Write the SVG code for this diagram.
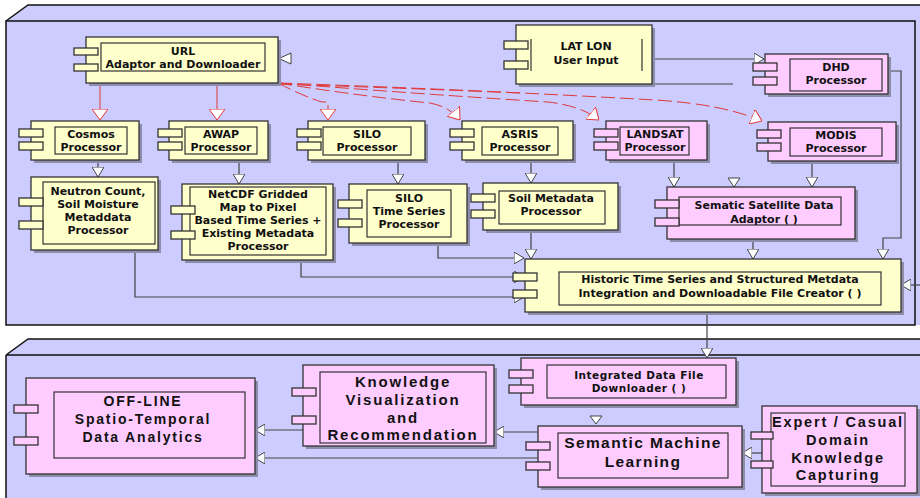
<svg xmlns="http://www.w3.org/2000/svg" width="920" height="498" viewBox="0 0 920 498">
  <style>
    .pkg { fill: #ccccff; stroke: none; }
    .frame { fill: none; stroke: #111; stroke-width: 1.5; }
    .sh { fill: #8e8eaa; }
    .y { fill: #ffffcc; stroke: #333; stroke-width: 1.3; }
    .p { fill: #ffccff; stroke: #333; stroke-width: 1.3; }
    .in { fill: none; stroke: #333; stroke-width: 1.2; }
    .t { font-family: "DejaVu Sans", sans-serif; font-weight: bold; font-size: 11px; text-anchor: middle; fill: #111; }
    .tb { font-family: "Liberation Sans", Arial, sans-serif; font-weight: bold; text-anchor: middle; fill: #111; }
    .c { fill: none; stroke: #444; stroke-width: 1.2; }
    .r { fill: none; stroke: #e03838; stroke-width: 1; }
    .rd { stroke-dasharray: 14 5; }
    .tri { fill: #fff; stroke: #444; stroke-width: 1; }
  </style>
  <defs>
    <marker id="ah" viewBox="0 0 10 12" refX="10" refY="6" markerWidth="10" markerHeight="12" orient="auto" markerUnits="userSpaceOnUse">
      <path d="M0,0 L10,6 L0,12 z" fill="#fff" stroke="#444" stroke-width="1"/>
    </marker>
    <marker id="rh" viewBox="0 0 11 16" refX="11" refY="8" markerWidth="11" markerHeight="16" orient="auto" markerUnits="userSpaceOnUse">
      <path d="M0,0 L11,8 L0,16 z" fill="#fff" stroke="#e03838" stroke-width="1"/>
    </marker>
  </defs>

  <rect width="920" height="498" fill="#fff"/>

  <!-- upper package -->
  <g id="pkg-upper">
    <path class="pkg" d="M6,21 L28,5 L920,5 L920,325 L6,325 Z"/>
    <path class="frame" d="M6,21 L28,5 L920,5"/>
    <rect class="frame" x="6" y="21" width="909" height="304"/>
  </g>

  <!-- lower package -->
  <g id="pkg-lower">
    <path class="pkg" d="M6,355 L28,339 L920,339 L920,498 L6,498 Z"/>
    <path class="frame" d="M6,355 L28,339 L920,339 M6,355 L920,355 M6,355 L6,498"/>
  </g>

  <!-- connectors -->
  <g id="connectors">
    <!-- URL adaptor fan-out -->
    <path class="r" d="M100,83 L100,120" marker-end="url(#rh)"/>
    <path class="r" d="M217,83 L217,120" marker-end="url(#rh)"/>
    <path class="r rd" d="M278,83 Q305,97 322,102 L328,102 L328,120" marker-end="url(#rh)"/>
    <path class="r rd" d="M278,83 Q360,96 430,103 Q450,107 460,120" marker-end="url(#rh)"/>
    <path class="r rd" d="M278,83 Q420,94 548,102 Q582,106 599,120" marker-end="url(#rh)"/>
    <path class="r rd" d="M278,83 Q480,90 655,100 Q722,104 762,121" marker-end="url(#rh)"/>
    <path class="r rd" d="M278,84 Q400,88 520,93"/>

    <!-- URL input port -->
    <polygon class="tri" points="291,53 291,64 279,58.5"/>

    <!-- LAT LON to DH -->
    <path class="c" d="M650,59 L764,59" marker-end="url(#ah)"/>
    <path class="c" d="M652,84 L733,84"/>

    <!-- processors to metadata processors -->
    <path class="c" d="M98,160 L98,177" marker-end="url(#ah)"/>
    <path class="c" d="M239,160 L239,184" marker-end="url(#ah)"/>
    <path class="c" d="M398,160 L398,184" marker-end="url(#ah)"/>
    <path class="c" d="M531,160 L531,183" marker-end="url(#ah)"/>
    <path class="c" d="M674,160 L674,187" marker-end="url(#ah)"/>
    <path class="c" d="M812,161 L812,187" marker-end="url(#ah)"/>
    <polygon class="tri" points="728,178 740,178 734,187"/>

    <!-- into integration creator -->
    <path class="c" d="M531,230 L531,259" marker-end="url(#ah)"/>
    <path class="c" d="M753,239 L753,259" marker-end="url(#ah)"/>
    <path class="c" d="M886,71 L901,71 L901,238 L883,238 L883,259" marker-end="url(#ah)"/>
    <path class="c" d="M438,243 L438,258 L524,258" marker-end="url(#ah)"/>
    <path class="c" d="M301,260 L301,277 L524,277" marker-end="url(#ah)"/>
    <path class="c" d="M135,250 L135,297 L524,297" marker-end="url(#ah)"/>
    <path class="c" d="M920,285 L901,285" marker-end="url(#ah)"/>

    <!-- to downloader -->
    <path class="c" d="M707,312 L707,358" marker-end="url(#ah)"/>

    <!-- lower package flows -->
    <polygon class="tri" points="590,416 602,416 596,424"/>
    <path class="c" d="M762,453 L742,453" marker-end="url(#ah)"/>
    <path class="c" d="M538,432 L494,432" marker-end="url(#ah)"/>
    <path class="c" d="M538,458 L255,458" marker-end="url(#ah)"/>
    <path class="c" d="M303,430 L255,430" marker-end="url(#ah)"/>
  </g>

  <!-- nodes -->
  <g id="url-adaptor">
    <rect class="sh" x="89" y="40" width="192" height="46"/>
    <rect class="y" x="86" y="37" width="192" height="46"/>
    <rect class="in" x="101" y="43" width="164" height="28"/>
    <rect class="y" x="74" y="48" width="24" height="7"/>
    <rect class="y" x="74" y="64" width="24" height="7"/>
    <text class="t" x="183" y="55">URL</text>
    <text class="t" x="183" y="68">Adaptor and Downloader</text>
  </g>

  <g id="latlon-input">
    <rect class="sh" x="519" y="28" width="136" height="59"/>
    <rect class="y" x="516" y="25" width="136" height="59"/>
    <path class="in" d="M531,39 L531,71 M642,39 L642,71"/>
    <rect class="y" x="504" y="41" width="24" height="8"/>
    <rect class="y" x="504" y="61" width="24" height="8"/>
    <text class="t" x="586" y="50">LAT LON</text>
    <text class="t" x="586" y="64">User Input</text>
  </g>

  <g id="dhd-processor">
    <rect class="sh" x="768" y="57" width="123" height="40"/>
    <rect class="p" x="765" y="54" width="123" height="40"/>
    <rect class="in" x="790" y="59" width="92" height="32"/>
    <rect class="p" x="753" y="63" width="24" height="8"/>
    <rect class="p" x="753" y="77" width="24" height="8"/>
    <text class="t" x="836" y="71">DHD</text>
    <text class="t" x="836" y="84">Processor</text>
  </g>

  <g id="cosmos-processor">
    <rect class="sh" x="34" y="124" width="108" height="39"/>
    <rect class="y" x="31" y="121" width="108" height="39"/>
    <rect class="in" x="55" y="127" width="72" height="27"/>
    <rect class="y" x="19" y="129" width="24" height="8"/>
    <rect class="y" x="19" y="142" width="24" height="8"/>
    <text class="t" x="91" y="138">Cosmos</text>
    <text class="t" x="91" y="151">Processor</text>
  </g>

  <g id="awap-processor">
    <rect class="sh" x="172" y="124" width="99" height="39"/>
    <rect class="y" x="169" y="121" width="99" height="39"/>
    <rect class="in" x="185" y="127" width="72" height="27"/>
    <rect class="y" x="158" y="129" width="24" height="8"/>
    <rect class="y" x="158" y="142" width="24" height="8"/>
    <text class="t" x="221" y="138">AWAP</text>
    <text class="t" x="221" y="151">Processor</text>
  </g>

  <g id="silo-processor">
    <rect class="sh" x="311" y="124" width="117" height="39"/>
    <rect class="y" x="308" y="121" width="117" height="39"/>
    <rect class="in" x="323" y="127" width="88" height="28"/>
    <rect class="y" x="297" y="129" width="24" height="8"/>
    <rect class="y" x="297" y="142" width="24" height="8"/>
    <text class="t" x="367" y="138">SILO</text>
    <text class="t" x="367" y="151">Processor</text>
  </g>

  <g id="asris-processor">
    <rect class="sh" x="465" y="124" width="111" height="39"/>
    <rect class="y" x="462" y="121" width="111" height="39"/>
    <rect class="in" x="482" y="127" width="76" height="28"/>
    <rect class="y" x="450" y="129" width="24" height="8"/>
    <rect class="y" x="450" y="142" width="24" height="8"/>
    <text class="t" x="520" y="138">ASRIS</text>
    <text class="t" x="520" y="151">Processor</text>
  </g>

  <g id="landsat-processor">
    <rect class="sh" x="609" y="124" width="101" height="39"/>
    <rect class="p" x="606" y="121" width="101" height="39"/>
    <rect class="in" x="620" y="127" width="69" height="28"/>
    <rect class="p" x="594" y="129" width="24" height="8"/>
    <rect class="p" x="594" y="142" width="24" height="8"/>
    <text class="t" x="655" y="138">LANDSAT</text>
    <text class="t" x="655" y="151">Processor</text>
  </g>

  <g id="modis-processor">
    <rect class="sh" x="771" y="125" width="128" height="39"/>
    <rect class="p" x="768" y="122" width="128" height="39"/>
    <rect class="in" x="790" y="128" width="92" height="28"/>
    <rect class="p" x="757" y="130" width="24" height="8"/>
    <rect class="p" x="757" y="143" width="24" height="8"/>
    <text class="t" x="836" y="139">MODIS</text>
    <text class="t" x="836" y="152">Processor</text>
  </g>

  <g id="neutron-processor">
    <rect class="sh" x="34" y="180" width="127" height="73"/>
    <rect class="y" x="31" y="177" width="127" height="73"/>
    <rect class="in" x="43" y="182" width="112" height="62"/>
    <rect class="y" x="19" y="198" width="24" height="8"/>
    <rect class="y" x="19" y="221" width="24" height="8"/>
    <text class="t" x="98" y="195">Neutron Count,</text>
    <text class="t" x="98" y="208">Soil Moisture</text>
    <text class="t" x="98" y="221">Metaddata</text>
    <text class="t" x="98" y="234">Processor</text>
  </g>

  <g id="netcdf-processor">
    <rect class="sh" x="185" y="187" width="151" height="76"/>
    <rect class="y" x="182" y="184" width="151" height="76"/>
    <rect class="in" x="190" y="187" width="136" height="68"/>
    <rect class="y" x="171" y="206" width="24" height="8"/>
    <rect class="y" x="171" y="231" width="24" height="8"/>
    <text class="t" x="258" y="198">NetCDF Gridded</text>
    <text class="t" x="258" y="211">Map to Pixel</text>
    <text class="t" x="258" y="224">Based Time Series +</text>
    <text class="t" x="258" y="237">Existing Metadata</text>
    <text class="t" x="258" y="250">Processor</text>
  </g>

  <g id="silo-timeseries">
    <rect class="sh" x="352" y="187" width="118" height="59"/>
    <rect class="y" x="349" y="184" width="118" height="59"/>
    <rect class="in" x="367" y="190" width="84" height="47"/>
    <rect class="y" x="338" y="200" width="24" height="8"/>
    <rect class="y" x="338" y="219" width="24" height="8"/>
    <text class="t" x="409" y="202">SILO</text>
    <text class="t" x="409" y="215">Time Series</text>
    <text class="t" x="409" y="228">Processor</text>
  </g>

  <g id="soil-metadata">
    <rect class="sh" x="486" y="186" width="135" height="47"/>
    <rect class="y" x="483" y="183" width="135" height="47"/>
    <rect class="in" x="499" y="191" width="106" height="33"/>
    <rect class="y" x="471" y="194" width="24" height="8"/>
    <rect class="y" x="471" y="210" width="24" height="8"/>
    <text class="t" x="551" y="202">Soil Metadata</text>
    <text class="t" x="551" y="215">Processor</text>
  </g>

  <g id="satellite-adaptor">
    <rect class="sh" x="670" y="190" width="188" height="52"/>
    <rect class="p" x="667" y="187" width="188" height="52"/>
    <rect class="in" x="679" y="197" width="162" height="28"/>
    <rect class="p" x="655" y="200" width="24" height="8"/>
    <rect class="p" x="655" y="218" width="24" height="8"/>
    <text class="t" x="764" y="209">Sematic Satellite Data</text>
    <text class="t" x="764" y="223">Adaptor ( )</text>
  </g>

  <g id="integration-creator">
    <rect class="sh" x="528" y="262" width="376" height="53"/>
    <rect class="y" x="525" y="259" width="376" height="53"/>
    <rect class="in" x="559" y="272" width="322" height="33"/>
    <rect class="y" x="513" y="273" width="24" height="8"/>
    <rect class="y" x="513" y="290" width="24" height="8"/>
    <text class="t" x="720" y="283">Historic Time Series and Structured Metdata</text>
    <text class="t" x="720" y="297">Integration and Downloadable File Creator ( )</text>
  </g>

  <g id="file-downloader">
    <rect class="sh" x="524" y="361" width="215" height="47"/>
    <rect class="p" x="521" y="358" width="215" height="47"/>
    <rect class="in" x="547" y="365" width="179" height="33"/>
    <rect class="p" x="509" y="370" width="24" height="8"/>
    <rect class="p" x="509" y="385" width="24" height="8"/>
    <text class="t" x="639" y="379" style="font-size:10.5px;letter-spacing:0.5px">Integrated Data File</text>
    <text class="t" x="639" y="392" style="font-size:10.5px;letter-spacing:0.5px">Downloader ( )</text>
  </g>

  <g id="knowledge-visualization">
    <rect class="sh" x="306" y="368" width="191" height="81"/>
    <rect class="p" x="303" y="365" width="191" height="81"/>
    <rect class="in" x="320" y="372" width="166" height="71"/>
    <rect class="p" x="292" y="388" width="24" height="8"/>
    <rect class="p" x="292" y="416" width="24" height="8"/>
    <text class="tb" x="403" y="387" style="font-size:15px;letter-spacing:1.8px">Knowledge</text>
    <text class="tb" x="403" y="405" style="font-size:15px;letter-spacing:1.8px">Visualization</text>
    <text class="tb" x="403" y="423" style="font-size:15px;letter-spacing:1.8px">and</text>
    <text class="tb" x="403" y="440" style="font-size:15px;letter-spacing:1.8px">Recommendation</text>
  </g>

  <g id="offline-analytics">
    <rect class="sh" x="29" y="381" width="229" height="96"/>
    <rect class="p" x="26" y="378" width="229" height="96"/>
    <rect class="in" x="54" y="392" width="191" height="66"/>
    <rect class="p" x="14" y="405" width="24" height="8"/>
    <rect class="p" x="14" y="437" width="24" height="8"/>
    <text class="tb" x="143" y="406" style="font-size:14px;letter-spacing:1.8px">OFF-LINE</text>
    <text class="tb" x="143" y="424" style="font-size:14px;letter-spacing:1.8px">Spatio-Temporal</text>
    <text class="tb" x="143" y="442" style="font-size:14px;letter-spacing:1.8px">Data Analytics</text>
  </g>

  <g id="semantic-learning">
    <rect class="sh" x="541" y="429" width="204" height="61"/>
    <rect class="p" x="538" y="426" width="204" height="61"/>
    <rect class="in" x="558" y="433" width="170" height="45"/>
    <rect class="p" x="526" y="442" width="24" height="8"/>
    <rect class="p" x="526" y="462" width="24" height="8"/>
    <text class="tb" x="643" y="448" style="font-size:15.5px;letter-spacing:1.4px">Semantic Machine</text>
    <text class="tb" x="643" y="467" style="font-size:15.5px;letter-spacing:1.4px">Learning</text>
  </g>

  <g id="expert-capturing">
    <rect class="sh" x="765" y="409" width="155" height="87"/>
    <rect class="p" x="762" y="406" width="155" height="87"/>
    <rect class="in" x="771" y="413" width="134" height="73"/>
    <rect class="p" x="751" y="432" width="22" height="7"/>
    <rect class="p" x="751" y="461" width="22" height="7"/>
    <text class="tb" x="838" y="427" style="font-size:14.5px;letter-spacing:1.8px">Expert / Casual</text>
    <text class="tb" x="838" y="445" style="font-size:14.5px;letter-spacing:1.8px">Domain</text>
    <text class="tb" x="838" y="463" style="font-size:14.5px;letter-spacing:1.8px">Knowledge</text>
    <text class="tb" x="838" y="480" style="font-size:14.5px;letter-spacing:1.8px">Capturing</text>
  </g>
</svg>
